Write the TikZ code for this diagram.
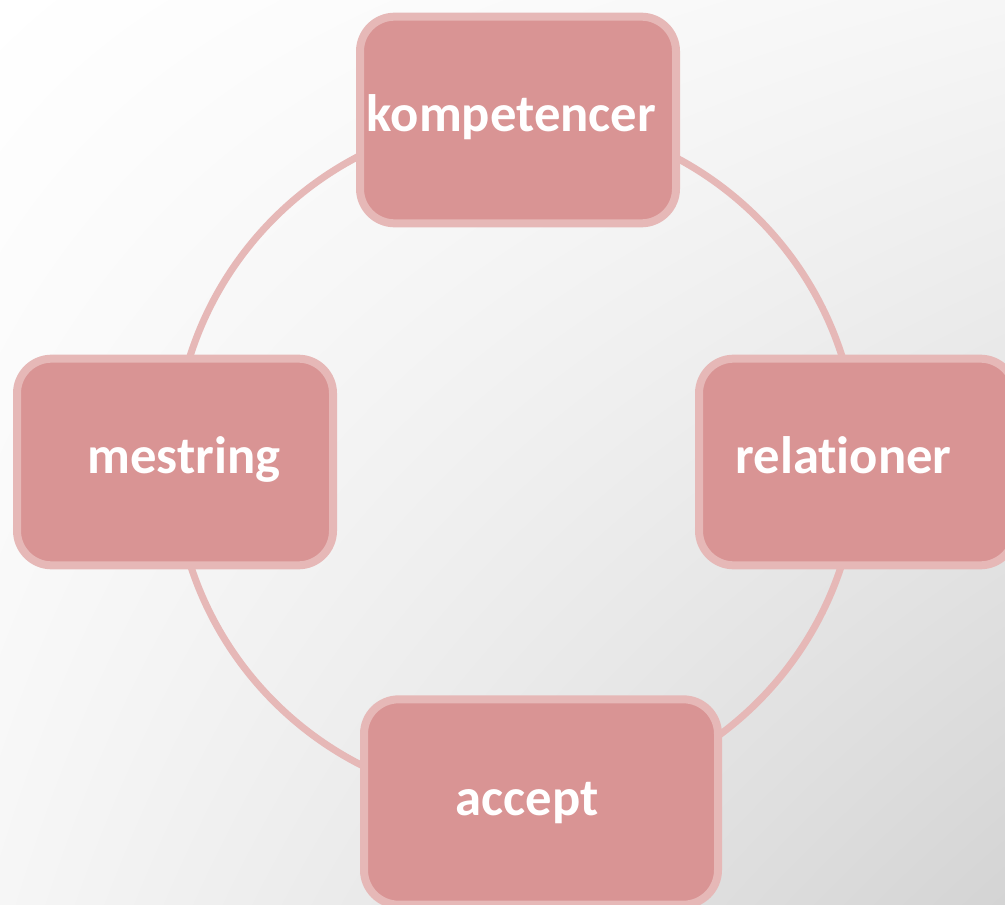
\documentclass[tikz,border=0pt]{standalone}
\usepackage{fontspec}
\setmainfont{Carlito}[Ligatures=NoCommon]
\usetikzlibrary{positioning,shadings}

\definecolor{boxfill}{RGB}{217,148,148}
\definecolor{boxline}{RGB}{230,184,183}
\definecolor{bgdark}{RGB}{212,212,212}
\definecolor{bgmid}{RGB}{246,246,246}

\tikzset{every picture/.style={line width=0.75pt}}
\tikzset{
  cyclebox/.style={draw=boxline, line width=6pt, fill=boxfill, rounded corners=26pt,
    minimum width=237pt, minimum height=155pt, inner sep=0pt},
  cycletext/.style={anchor=base, text=white, font=\bfseries\fontsize{39.5}{47}\selectfont, inner sep=0pt},
}

\begin{document}
\begin{tikzpicture}[x=0.75pt,y=0.75pt,yscale=-1,xscale=1]
	\useasboundingbox (0,0) rectangle (1005,905);

	%Shape: background
	\shade [upper left=white, upper right=bgmid, lower left=bgmid, lower right=bgdark] (0,0) rectangle (1005,905);

	%Shape: Circle
	\coordinate (ctr) at (516,460);
	\draw [boxline, line width=5.25pt] (ctr) circle [radius=342];

	%Shape: Rounded Rectangles
	\node [cyclebox] (komp) at (518,120) {};
	\node [cyclebox] (mest) at (175,462) {};
	\node [cyclebox] (rel) at (857,462) {};
	\node [cyclebox, minimum width=265.5pt, minimum height=154pt] (acc) at (541,802) {};

	% Text Node
	\node [cycletext] (kompT) at (511.5,132) {kompetencer};
	% Text Node
	\node [cycletext] (mestT) at (184,473) {mestring};
	% Text Node
	\node [cycletext] (relT) at (843.5,473) {relationer};
	% Text Node
	\node [cycletext] (accT) at (527,815) {accept};

\end{tikzpicture}
\end{document}
